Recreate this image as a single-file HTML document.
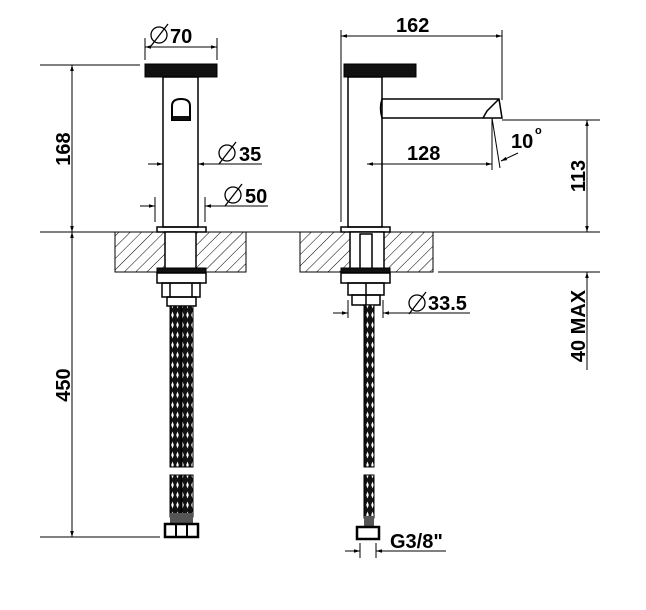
<!DOCTYPE html>
<html><head><style>body{margin:0;background:#fff}svg{display:block}text{font-family:"Liberation Sans",sans-serif;font-weight:bold;fill:#000}</style></head><body>
<svg width="646" height="610" viewBox="0 0 646 610" xmlns="http://www.w3.org/2000/svg">
<defs>
<pattern id="h" width="8" height="8" patternUnits="userSpaceOnUse" patternTransform="rotate(45)"><line x1="0" y1="0" x2="0" y2="8" stroke="#000" stroke-width="1"/></pattern>
<pattern id="br" width="5" height="10" patternUnits="userSpaceOnUse"><rect width="5" height="10" fill="#111"/><path d="M2.5 1.5 L3.8 5 L2.5 8.5 L1.2 5Z" fill="#fff"/></pattern>
<marker id="a" viewBox="0 0 10 10" refX="10" refY="5" markerWidth="12" markerHeight="6" orient="auto-start-reverse" markerUnits="userSpaceOnUse"><path d="M0 2 L10 5 L0 8Z" fill="#000"/></marker>
</defs>
<g stroke="#000" fill="none" stroke-width="1">
<line x1="40" y1="65" x2="140" y2="65"/>
<line x1="40" y1="232" x2="115" y2="232"/>
<line x1="40" y1="537" x2="160" y2="537"/>
<line x1="72" y1="65" x2="72" y2="232" marker-start="url(#a)" marker-end="url(#a)"/>
<line x1="72" y1="232" x2="72" y2="537" marker-start="url(#a)" marker-end="url(#a)"/>
<line x1="145" y1="38" x2="145" y2="60"/><line x1="217" y1="38" x2="217" y2="60"/>
<line x1="145" y1="47" x2="217" y2="47" marker-start="url(#a)" marker-end="url(#a)"/>
<rect x="145" y="64" width="72" height="13" fill="#111"/>
<rect x="163" y="77" width="35" height="150" stroke-width="1.5"/>
<path d="M172 120 V106 Q172 99 181 99 Q190 99 190 106 V120 Z" stroke-width="2"/>
<rect x="173" y="116" width="16" height="4" fill="#111" stroke="none"/>
<line x1="148" y1="164" x2="163" y2="164" marker-end="url(#a)"/>
<line x1="262" y1="164" x2="198" y2="164" marker-end="url(#a)"/>
<line x1="155" y1="197" x2="155" y2="222"/><line x1="205" y1="197" x2="205" y2="222"/>
<line x1="140" y1="206" x2="155" y2="206" marker-end="url(#a)"/>
<line x1="268" y1="206" x2="205" y2="206" marker-end="url(#a)"/>
<rect x="157" y="227" width="49" height="5" stroke-width="1.5"/>
<rect x="115" y="232" width="131" height="40" fill="url(#h)"/>
<rect x="165" y="232" width="31" height="40" fill="#fff" stroke-width="1.5"/>
<rect x="157" y="268" width="49" height="5" fill="#111"/>
<rect x="157" y="273" width="49" height="10" stroke-width="1.5"/>
<rect x="162" y="283" width="38" height="14" stroke-width="1.5"/>
<line x1="170" y1="283" x2="170" y2="297" stroke-width="1.5"/><line x1="192" y1="283" x2="192" y2="297" stroke-width="1.5"/>
<rect x="167" y="297" width="29" height="9" stroke-width="1.5"/>
<rect x="170" y="306" width="11" height="161" fill="url(#br)"/>
<rect x="182" y="306" width="11" height="161" fill="url(#br)"/>
<rect x="170" y="475" width="11" height="42" fill="url(#br)"/>
<rect x="182" y="475" width="11" height="42" fill="url(#br)"/>
<rect x="170" y="513" width="23" height="10" fill="#555" stroke="none"/>
<rect x="165" y="524" width="33" height="13" stroke-width="2.5" fill="#fff"/>
<line x1="176" y1="524" x2="176" y2="537" stroke-width="2"/><line x1="187" y1="524" x2="187" y2="537" stroke-width="2"/>
<line x1="341" y1="30" x2="341" y2="222"/><line x1="502" y1="30" x2="502" y2="100"/>
<line x1="341" y1="36" x2="502" y2="36" marker-start="url(#a)" marker-end="url(#a)"/>
<rect x="344" y="64" width="72" height="13" fill="#111"/>
<rect x="348" y="77" width="34" height="150" stroke-width="1.5"/>
<path d="M382 99 H499 L502 118 H483 L487 111 L499 99 M483 118 H382 M382 99 Q379 108 382 118" stroke-width="1.5"/>
<line x1="492" y1="118" x2="492" y2="170"/>
<line x1="492" y1="118" x2="500" y2="168"/>
<line x1="518" y1="153" x2="501" y2="161" marker-end="url(#a)"/>
<line x1="367" y1="164" x2="492" y2="164" marker-start="url(#a)" marker-end="url(#a)"/>
<line x1="502" y1="120" x2="600" y2="120"/>
<line x1="587" y1="120" x2="587" y2="232" marker-start="url(#a)" marker-end="url(#a)"/>
<line x1="246" y1="232" x2="300" y2="232"/>
<line x1="433" y1="232" x2="600" y2="232"/>
<line x1="438" y1="272" x2="600" y2="272"/>
<line x1="587" y1="272" x2="587" y2="370" marker-start="url(#a)"/>
<rect x="341" y="227" width="49" height="5" stroke-width="1.5"/>
<rect x="300" y="232" width="133" height="40" fill="url(#h)"/>
<rect x="350" y="232" width="34" height="40" fill="#fff" stroke-width="1.5"/>
<rect x="360" y="234" width="12" height="36" stroke-width="1.5"/>
<rect x="341" y="268" width="49" height="5" fill="#111"/>
<rect x="341" y="273" width="49" height="10" stroke-width="1.5"/>
<rect x="348" y="283" width="36" height="12" stroke-width="1.5"/>
<line x1="366" y1="283" x2="366" y2="305" stroke-width="1.5"/>
<rect x="352" y="295" width="28" height="10" stroke-width="1.5"/>
<line x1="348" y1="300" x2="348" y2="318"/><line x1="383" y1="300" x2="383" y2="318"/>
<line x1="333" y1="313" x2="348" y2="313" marker-end="url(#a)"/>
<line x1="470" y1="313" x2="383" y2="313" marker-end="url(#a)"/>
<rect x="364" y="305" width="10" height="162" fill="url(#br)"/>
<rect x="364" y="475" width="10" height="43" fill="url(#br)"/>
<rect x="364" y="516" width="10" height="10" fill="#555" stroke="none"/>
<rect x="357" y="527" width="22" height="12" stroke-width="2.5" fill="#fff"/>
<line x1="360" y1="543" x2="360" y2="558"/><line x1="376" y1="543" x2="376" y2="558"/>
<line x1="345" y1="551" x2="360" y2="551" marker-end="url(#a)"/>
<line x1="446" y1="551" x2="376" y2="551" marker-end="url(#a)"/>
<g stroke-width="1.3">
<circle cx="159" cy="35" r="8"/><line x1="151" y1="46" x2="168" y2="24"/>
<circle cx="227" cy="153" r="8"/><line x1="219" y1="164" x2="236" y2="142"/>
<circle cx="233" cy="195" r="8"/><line x1="225" y1="206" x2="242" y2="184"/>
<circle cx="417" cy="303" r="8"/><line x1="409" y1="314" x2="426" y2="292"/>
</g>
</g>
<g font-size="20">
<text x="170" y="43">70</text>
<text x="239" y="161">35</text>
<text x="245" y="203">50</text>
<text x="396" y="32">162</text>
<text x="407" y="160">128</text>
<text x="511" y="148">10</text><text x="535" y="134" font-size="11" font-weight="normal">o</text>
<text x="428" y="310">33.5</text>
<text x="390" y="548">G3/8"</text>
<text transform="translate(70,149) rotate(-90)" text-anchor="middle">168</text>
<text transform="translate(70,385) rotate(-90)" text-anchor="middle">450</text>
<text transform="translate(585,176) rotate(-90)" text-anchor="middle">113</text>
<text transform="translate(585,326) rotate(-90)" text-anchor="middle">40 MAX</text>
</g>
</svg>
</body></html>
